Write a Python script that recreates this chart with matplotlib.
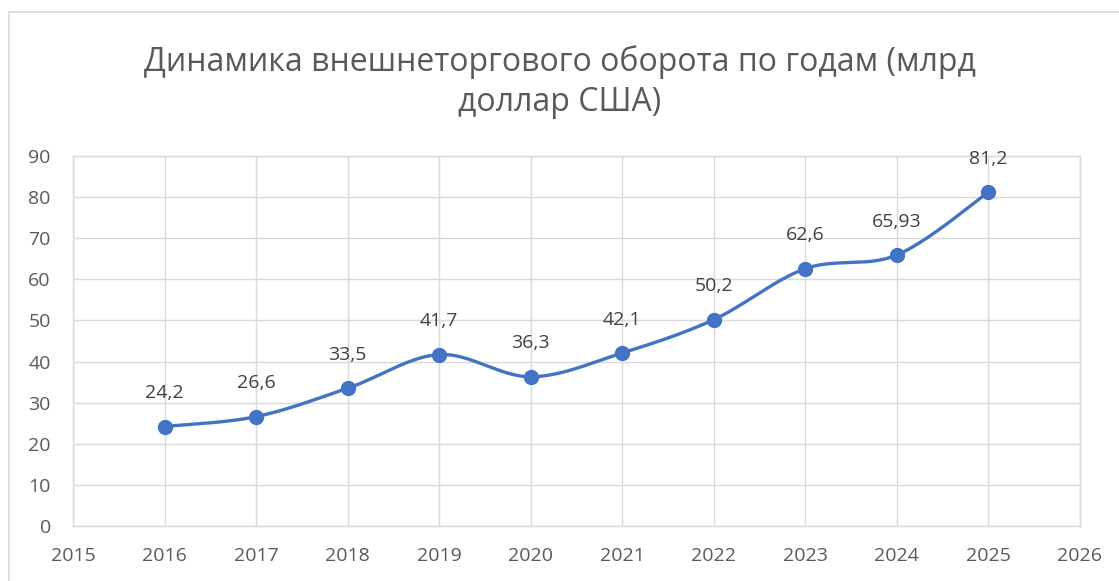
import numpy as np
import matplotlib
matplotlib.use("Agg")
import matplotlib.pyplot as plt
from matplotlib.patches import Rectangle

years = [2016, 2017, 2018, 2019, 2020, 2021, 2022, 2023, 2024, 2025]
values = [24.2, 26.6, 33.5, 41.7, 36.3, 42.1, 50.2, 62.6, 65.93, 81.2]
labels = ["24,2", "26,6", "33,5", "41,7", "36,3", "42,1", "50,2", "62,6", "65,93", "81,2"]
title = "Динамика внешнеторгового оборота по годам (млрд\nдоллар США)"

FONT = "Open Sans"
GRID = "#D9D9D9"
TXT = "#595959"
LINE = "#4472C4"

fig = plt.figure(figsize=(11.19, 5.81), dpi=100)
W, H = 1119, 581
ax = fig.add_axes([73 / W, 1 - 526 / H, (1080 - 73) / W, (526 - 156) / H])

# chart border
fig.patches.append(Rectangle((9 / W, -0.2), 1.2, 1 - 12 / H + 0.2, transform=fig.transFigure,
                             fill=False, edgecolor=GRID, linewidth=1.2))

# smooth curve (Catmull-Rom like Excel smoothing)
x = np.array(years, dtype=float)
y = np.array(values, dtype=float)
px = np.concatenate([[x[0]], x, [x[-1]]])
py = np.concatenate([[y[0]], y, [y[-1]]])
cx, cy = [], []
t = np.linspace(0, 1, 40)
for i in range(1, len(px) - 2):
    p0 = np.array([px[i], py[i]])
    p3 = np.array([px[i + 1], py[i + 1]])
    c1 = p0 + (np.array([px[i + 1], py[i + 1]]) - np.array([px[i - 1], py[i - 1]])) / 6
    c2 = p3 - (np.array([px[i + 2], py[i + 2]]) - np.array([px[i], py[i]])) / 6
    b = ((1 - t) ** 3)[:, None] * p0 + (3 * (1 - t) ** 2 * t)[:, None] * c1 + \
        (3 * (1 - t) * t ** 2)[:, None] * c2 + (t ** 3)[:, None] * p3
    cx.extend(b[:, 0]); cy.extend(b[:, 1])
ax.plot(cx, cy, color=LINE, linewidth=2.4, solid_capstyle="round", zorder=3)
ax.plot(x, y, "o", color=LINE, markersize=10, zorder=4)

for xi, yi, lab in zip(years, values, labels):
    ax.annotate(lab, (xi, yi), xytext=(0, 24), textcoords="offset points",
                ha="center", va="center", fontsize=14, color="#404040", family=FONT)

ax.set_xlim(2015, 2026)
ax.set_ylim(0, 90)
ax.set_xticks(range(2015, 2027))
ax.set_yticks(range(0, 91, 10))
ax.grid(True, color=GRID, linewidth=1)
ax.set_axisbelow(True)
for s in ax.spines.values():
    s.set_color(GRID)
    s.set_linewidth(1)
ax.tick_params(length=0, labelsize=14, labelcolor=TXT)
ax.tick_params(axis="x", pad=15)
ax.tick_params(axis="y", pad=16)
for lab in ax.get_xticklabels() + ax.get_yticklabels():
    lab.set_family(FONT)

fig.text(0.5, 1 - 82 / H, title, ha="center", va="center", fontsize=23, color=TXT,
         family=FONT, linespacing=1.3)

fig.savefig("out.png", dpi=100)
